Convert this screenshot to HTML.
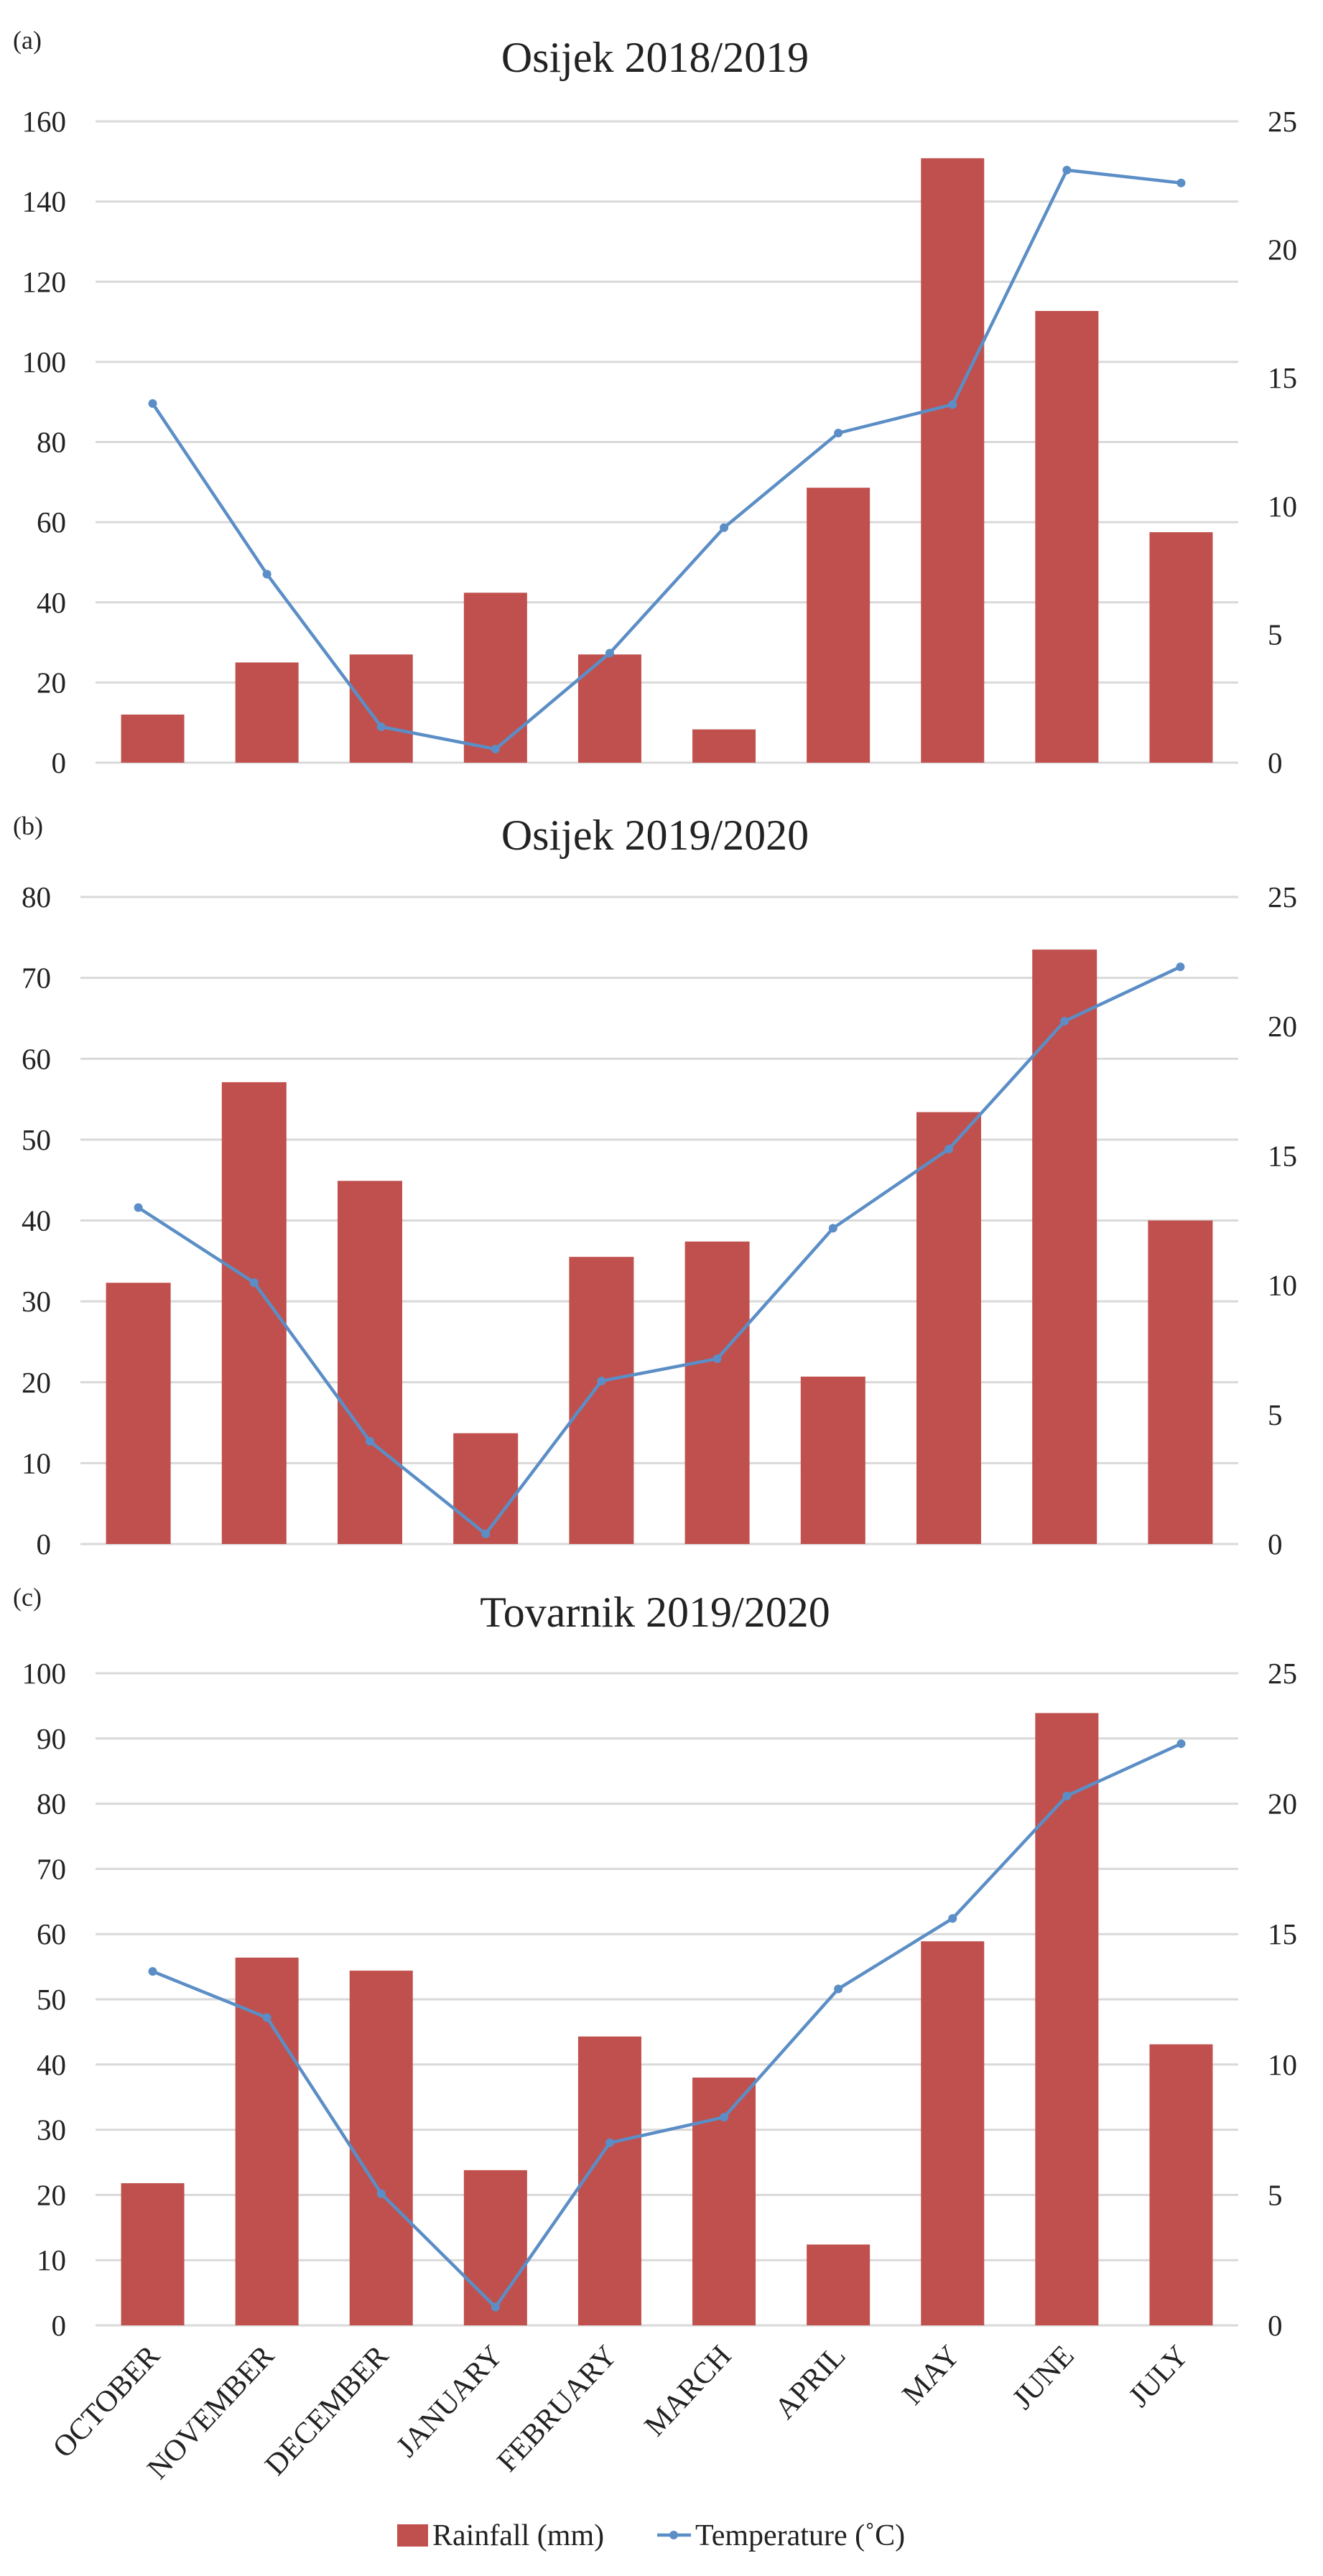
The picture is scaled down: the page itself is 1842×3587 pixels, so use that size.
<!DOCTYPE html>
<html><head><meta charset="utf-8"><style>
html,body{margin:0;padding:0;background:#fff;}
svg{display:block;}
text{font-family:"Liberation Serif",serif;fill:#222;}
</style></head><body>
<svg id="fig" width="1842" height="3587" viewBox="0 0 1842 3587"></svg>
<script>
const months = ["OCTOBER","NOVEMBER","DECEMBER","JANUARY","FEBRUARY","MARCH","APRIL","MAY","JUNE","JULY"];
const rainA = [12,25,27,42.4,27,8.3,68.6,150.8,112.7,57.5];
const tempA = [14.0,7.35,1.4,0.53,4.27,9.16,12.85,13.96,23.1,22.6];
const rainB = [32.3,57.1,44.9,13.7,35.5,37.4,20.7,53.4,73.5,40];
const tempB = [13.0,10.1,3.97,0.39,6.3,7.16,12.2,15.26,20.2,22.3];
const rainC = [21.8,56.4,54.4,23.8,44.3,38,12.4,58.9,93.9,43.1];
const tempC = [13.57,11.8,5.05,0.7,7.0,7.98,12.9,15.6,20.3,22.3];
const leftTicksA = [0,20,40,60,80,100,120,140,160];
const leftTicksB = [0,10,20,30,40,50,60,70,80];
const leftTicksC = [0,10,20,30,40,50,60,70,80,90,100];
const rightTicks = [0,5,10,15,20,25];

const NS="http://www.w3.org/2000/svg";
const svg=document.getElementById('fig');
function mk(tag,attrs,parent){const e=document.createElementNS(NS,tag);for(const k in attrs)e.setAttribute(k,attrs[k]);(parent||svg).appendChild(e);return e;}

function panel(cfg){
  const g=mk('g',{});
  
  
  const lmax=cfg.lticks[cfg.lticks.length-1];
  const y=v=>cfg.y0-(v/lmax)*(cfg.y0-cfg.yTop);
  const yr=v=>cfg.y0-(v/25)*(cfg.y0-cfg.yTop);
  const step=(cfg.right-cfg.left)/months.length;
  const x=i=>cfg.left+step*(i+0.5);
  const lab=mk('text',{x:18,y:cfg.labY,'font-size':36},g);lab.textContent=cfg.letter;
  
  
  const t=mk('text',{x:912,y:cfg.titleY,'font-size':60,'text-anchor':'middle'},g);t.textContent=cfg.title;
  
  
  cfg.lticks.forEach(v=>{
    const l=mk('line',{x1:cfg.left,x2:cfg.right,y1:y(v),y2:y(v),stroke:'#d9d9d9','stroke-width':3},g);
    
    
    const tt=mk('text',{x:cfg.labRight,y:y(v)+14,'font-size':41,'text-anchor':'end',fill:'#444'},g);tt.textContent=v;
    
    
  });
  rightTicks.forEach(v=>{
    const tt=mk('text',{x:1765,y:yr(v)+14,'font-size':41,fill:'#444'},g);tt.textContent=v;
    
    
  });
  cfg.rain.forEach((v,i)=>{
    const b=mk('rect',{x:x(i)-cfg.bw/2,y:y(v),width:cfg.bw,height:cfg.y0-y(v),fill:'#c0504d'},g);
    
    
  });
  const pts=cfg.temp.map((v,i)=>x(i)+','+yr(v)).join(' ');
  const pl=mk('polyline',{points:pts,fill:'none',stroke:'#5b8ec6','stroke-width':4.5,'stroke-linejoin':'round'},g);
  
  
  cfg.temp.forEach((v,i)=>{
    const c=mk('circle',{cx:x(i),cy:yr(v),r:6,fill:'#5b8ec6'},g);
    
    
  });
  return x;
}

panel({name:'panel-a',letter:'(a)',title:'Osijek 2018/2019',labY:68,titleY:100,yTop:169,y0:1062,left:133,right:1724,labRight:92,bw:88,lticks:leftTicksA,rain:rainA,temp:tempA});
panel({name:'panel-b',letter:'(b)',title:'Osijek 2019/2020',labY:1162,titleY:1183,yTop:1249,y0:2150,left:112,right:1724,labRight:71,bw:90,lticks:leftTicksB,rain:rainB,temp:tempB});
const xc=panel({name:'panel-c',letter:'(c)',title:'Tovarnik 2019/2020',labY:2236,titleY:2265,yTop:2330,y0:3238,left:133,right:1724,labRight:92,bw:88,lticks:leftTicksC,rain:rainC,temp:tempC});

months.forEach((m,i)=>{
  const tx=xc(i)+12, ty=3282;
  const t=mk('text',{x:tx,y:ty,'font-size':42,'text-anchor':'end',transform:`rotate(-47 ${tx} ${ty})`,fill:'#333'});
  t.textContent=m;
  
  
});

const lg=mk('g',{});


const r=mk('rect',{x:553,y:3515,width:43,height:31,fill:'#c0504d'},lg);


const t1=mk('text',{x:602,y:3544,'font-size':42},lg);t1.textContent='Rainfall (mm)';


const ll=mk('line',{x1:915,x2:962,y1:3530,y2:3530,stroke:'#5b8ec6','stroke-width':4.5},lg);


const lc=mk('circle',{cx:938,cy:3530,r:6,fill:'#5b8ec6'},lg);


const t2=mk('text',{x:968,y:3544,'font-size':42},lg);t2.textContent='Temperature (˚C)';


</script>
</body></html>
